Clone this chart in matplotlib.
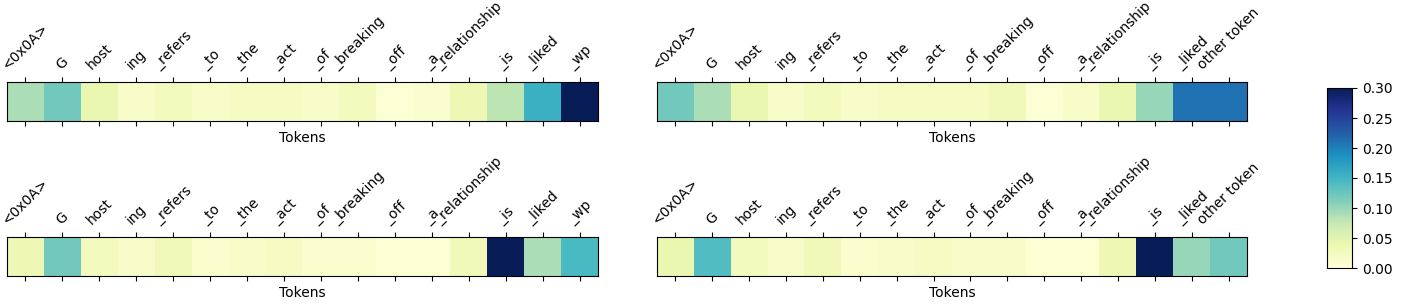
import numpy as np
import matplotlib
matplotlib.use('Agg')
from matplotlib import pyplot as plt

tokens_wp = ['<0x0A>', 'G', 'host', 'ing', '_refers', '_to', '_the', '_act', '_of',
             '_breaking', '_off', '_a', '_relationship', '_is', '_liked', '_wp']
tokens_other = tokens_wp[:-1] + ['other token']

top_left = [0.09, 0.12, 0.04, 0.015, 0.025, 0.015, 0.02, 0.02, 0.015, 0.025,
            0.005, 0.01, 0.035, 0.08, 0.155, 0.30]
top_right = [0.12, 0.09, 0.04, 0.015, 0.025, 0.015, 0.02, 0.02, 0.02, 0.03,
             0.005, 0.015, 0.04, 0.10, 0.21, 0.21]
bottom_left = [0.035, 0.12, 0.025, 0.015, 0.03, 0.01, 0.015, 0.02, 0.01, 0.01,
               0.005, 0.005, 0.03, 0.30, 0.09, 0.145]
bottom_right = [0.04, 0.14, 0.025, 0.015, 0.03, 0.01, 0.015, 0.02, 0.015, 0.015,
                0.005, 0.005, 0.035, 0.30, 0.10, 0.12]

W, H = 1406, 305
fig = plt.figure(figsize=(W / 100, H / 100), dpi=100)

# axes boxes in pixels: left, top, right, bottom
boxes = [(7, 82, 598, 121), (657, 82, 1247, 121),
         (7, 237, 598, 276), (657, 237, 1247, 276)]
series = [top_left, top_right, bottom_left, bottom_right]
labels = [tokens_wp, tokens_other, tokens_wp, tokens_other]

im = None
for (l, t, r, b), vals, labs in zip(boxes, series, labels):
    ax = fig.add_axes([l / W, 1 - b / H, (r - l) / W, (b - t) / H])
    im = ax.imshow(np.array(vals)[None, :], cmap='YlGnBu', vmin=0, vmax=0.3, aspect='auto')
    ax.set_xticks(range(len(labs)))
    ax.set_xticklabels(labs, rotation=45)
    ax.tick_params(top=True, labeltop=True, bottom=True, labelbottom=False)
    ax.set_yticks([])
    ax.set_xlabel('Tokens')

cax = fig.add_axes([1327 / W, 1 - 268 / H, 25 / W, 180 / H])
fig.colorbar(im, cax=cax)

fig.savefig('out.png', dpi=100)
